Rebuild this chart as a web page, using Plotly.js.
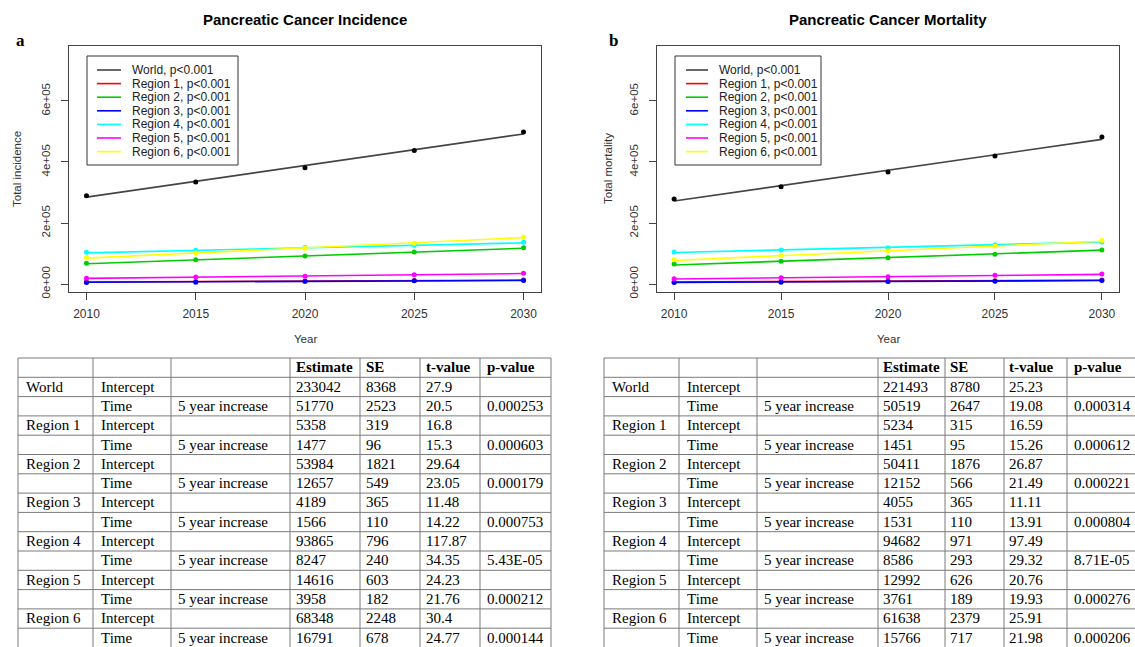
<!DOCTYPE html>
<html>
<head>
<meta charset="utf-8">
<script src="https://cdn.plot.ly/plotly-3.0.1.min.js"></script>
<style>html,body{margin:0;padding:0;background:#fff;}#chart{width:1135px;height:647px;}</style>
</head>
<body>
<div id="chart"></div>
<script>
// ---------------- DATA ----------------
var years = [2010, 2015, 2020, 2025, 2030];
var seriesNames = ['World', 'Region 1', 'Region 2', 'Region 3', 'Region 4', 'Region 5', 'Region 6'];
var pLabel = 'p<0.001';
var yTickVals = [0, 200000, 400000, 600000];
var yTickText = ['0e+00', '2e+05', '4e+05', '6e+05'];

// Incidence: observed points
var incWorld = [289500, 334000, 381000, 438000, 498000];
var incR1 = [7000, 8500, 9500, 11500, 13500];
var incR2 = [68000, 80000, 92000, 105000, 119000];
var incR3 = [5000, 6000, 9000, 10500, 11500];
var incR4 = [104000, 111000, 120000, 127000, 137000];
var incR5 = [19000, 23500, 26000, 30500, 35500];
var incR6 = [87000, 102000, 117000, 134000, 154000];
// Incidence: fitted lines
var incWorldFit = [284812, 336582, 388352, 440122, 491892];
var incR1Fit = [6835, 8312, 9789, 11266, 12743];
var incR2Fit = [66641, 79298, 91955, 104612, 117269];
var incR3Fit = [5755, 7321, 8887, 10453, 12019];
var incR4Fit = [102112, 110359, 118606, 126853, 135100];
var incR5Fit = [18574, 22532, 26490, 30448, 34406];
var incR6Fit = [85139, 101930, 118721, 135512, 152303];

// Mortality: observed points
var morWorld = [279000, 319000, 367000, 420000, 482000];
var morR1 = [7000, 8500, 9500, 11000, 13000];
var morR2 = [66000, 75000, 86000, 98000, 112000];
var morR3 = [5000, 6000, 8500, 9000, 11500];
var morR4 = [105000, 112000, 119000, 129000, 138000];
var morR5 = [17500, 21000, 24000, 28500, 33000];
var morR6 = [80000, 94000, 109000, 125000, 143000];
// Mortality: fitted lines
var morWorldFit = [272012, 322531, 373050, 423569, 474088];
var morR1Fit = [6685, 8136, 9587, 11038, 12489];
var morR2Fit = [62563, 74715, 86867, 99019, 111171];
var morR3Fit = [5586, 7117, 8648, 10179, 11710];
var morR4Fit = [103268, 111854, 120440, 129026, 137612];
var morR5Fit = [16753, 20514, 24275, 28036, 31797];
var morR6Fit = [77404, 93170, 108936, 124702, 140468];

// Tables
var tableHeader = ['', '', '', 'Estimate', 'SE', 't-value', 'p-value'];
var rowGroup = ['World', '', 'Region 1', '', 'Region 2', '', 'Region 3', '', 'Region 4', '', 'Region 5', '', 'Region 6', ''];
var rowTerm = ['Intercept', 'Time', 'Intercept', 'Time', 'Intercept', 'Time', 'Intercept', 'Time', 'Intercept', 'Time', 'Intercept', 'Time', 'Intercept', 'Time'];
var rowDesc = ['', '5 year increase', '', '5 year increase', '', '5 year increase', '', '5 year increase', '', '5 year increase', '', '5 year increase', '', '5 year increase'];
var incEstimate = ['233042', '51770', '5358', '1477', '53984', '12657', '4189', '1566', '93865', '8247', '14616', '3958', '68348', '16791'];
var incSE = ['8368', '2523', '319', '96', '1821', '549', '365', '110', '796', '240', '603', '182', '2248', '678'];
var incT = ['27.9', '20.5', '16.8', '15.3', '29.64', '23.05', '11.48', '14.22', '117.87', '34.35', '24.23', '21.76', '30.4', '24.77'];
var incP = ['', '0.000253', '', '0.000603', '', '0.000179', '', '0.000753', '', '5.43E-05', '', '0.000212', '', '0.000144'];
var morEstimate = ['221493', '50519', '5234', '1451', '50411', '12152', '4055', '1531', '94682', '8586', '12992', '3761', '61638', '15766'];
var morSE = ['8780', '2647', '315', '95', '1876', '566', '365', '110', '971', '293', '626', '189', '2379', '717'];
var morT = ['25.23', '19.08', '16.59', '15.26', '26.87', '21.49', '11.11', '13.91', '97.49', '29.32', '20.76', '19.93', '25.91', '21.98'];
var morP = ['', '0.000314', '', '0.000612', '', '0.000221', '', '0.000804', '', '8.71E-05', '', '0.000276', '', '0.000206'];

// ---------------- STYLE / LAYOUT ----------------
var W = 1135, H = 647;
function px(x) { return x / W; }
function py(y) { return 1 - y / H; }
var lineColors = ['#444444', '#ff0000', '#00cd00', '#0000ff', '#00ffff', '#ff00ff', '#ffff00'];
var markerColors = ['#000000', '#ff0000', '#00cd00', '#0000ff', '#00ffff', '#ff00ff', '#ffff00'];
var sans = 'Liberation Sans, Arial, sans-serif';
var serif = 'Liberation Serif, Times New Roman, serif';

var incObs = [incWorld, incR1, incR2, incR3, incR4, incR5, incR6];
var incFit = [incWorldFit, incR1Fit, incR2Fit, incR3Fit, incR4Fit, incR5Fit, incR6Fit];
var morObs = [morWorld, morR1, morR2, morR3, morR4, morR5, morR6];
var morFit = [morWorldFit, morR1Fit, morR2Fit, morR3Fit, morR4Fit, morR5Fit, morR6Fit];

var traces = [];
var annotations = [];
var shapes = [];

function addSeries(obs, fit, xa, ya) {
  for (var i = 0; i < seriesNames.length; i++) {
    traces.push({
      type: 'scatter', mode: 'lines', x: years, y: fit[i], xaxis: xa, yaxis: ya,
      line: { color: lineColors[i], width: 1.6 }, name: seriesNames[i], showlegend: false, hoverinfo: 'skip'
    });
    traces.push({
      type: 'scatter', mode: 'markers', x: years, y: obs[i], xaxis: xa, yaxis: ya,
      marker: { color: markerColors[i], size: 5 }, name: seriesNames[i], showlegend: false
    });
  }
}
addSeries(incObs, incFit, 'x', 'y');
addSeries(morObs, morFit, 'x2', 'y2');

// ---- tables drawn as text traces on hidden pixel-unit axes + grid shapes ----
var rowH = 19.3;
var nRows = rowGroup.length + 1; // header + body
function makeTable(cols, widths, pads, xa, ya) {
  var xref = xa.replace('axis', ''), yref = ya.replace('axis', '');
  var left = [0];
  for (var c = 0; c < widths.length; c++) left.push(left[c] + widths[c]);
  for (var c = 0; c < cols.length; c++) {
    var texts = [tableHeader[c] ? '<b>' + tableHeader[c] + '</b>' : ''].concat(cols[c]);
    var xs = [], ys = [];
    for (var r = 0; r < texts.length; r++) { xs.push(left[c] + pads[c]); ys.push((r + 0.55) * rowH); }
    traces.push({
      type: 'scatter', mode: 'text', x: xs, y: ys, text: texts, xaxis: xref, yaxis: yref,
      textposition: 'middle right', textfont: { family: serif, size: 15, color: '#000' },
      showlegend: false, hoverinfo: 'skip'
    });
  }
  for (var r = 0; r <= nRows; r++) {
    shapes.push({ type: 'line', xref: xref, yref: yref, x0: 0, x1: left[left.length - 1], y0: r * rowH, y1: r * rowH,
      line: { color: '#7a7a7a', width: 1 } });
  }
  for (var c = 0; c < left.length; c++) {
    shapes.push({ type: 'line', xref: xref, yref: yref, x0: left[c], x1: left[c], y0: 0, y1: nRows * rowH,
      line: { color: '#7a7a7a', width: 1 } });
  }
}
makeTable([rowGroup, rowTerm, rowDesc, incEstimate, incSE, incT, incP],
  [75, 78, 119, 70, 60, 60, 71], [8, 8, 7, 6, 6, 6, 7], 'xaxis3', 'yaxis3');
makeTable([rowGroup, rowTerm, rowDesc, morEstimate, morSE, morT, morP],
  [75, 78, 121, 67, 59, 63, 73], [8, 8, 7, 5, 5, 5, 7], 'xaxis4', 'yaxis4');

function hiddenAxis(d0, d1, r) {
  return { domain: [d0, d1], range: r, visible: false, showgrid: false, zeroline: false, fixedrange: true };
}

function xAxis(d0, d1, anchor) {
  return {
    domain: [px(d0), px(d1)], anchor: anchor, range: [2009.2, 2030.8],
    tickvals: years, ticks: 'outside', ticklen: 7, tickcolor: '#444', tickwidth: 1,
    showline: true, mirror: true, linecolor: '#444', linewidth: 1,
    showgrid: false, zeroline: false, ticklabelstandoff: 4,
    tickfont: { family: sans, size: 12, color: '#333' }
  };
}
function yAxis(anchor) {
  return {
    domain: [py(292), py(46)], anchor: anchor, range: [-26000, 780000],
    tickvals: yTickVals, ticktext: yTickText, tickangle: -90,
    ticks: 'outside', ticklen: 7, tickcolor: '#444', tickwidth: 1,
    showline: true, mirror: true, linecolor: '#444', linewidth: 1,
    showgrid: false, zeroline: false, ticklabelstandoff: 6,
    tickfont: { family: sans, size: 11.5, color: '#333' }
  };
}

function ann(text, x, y, opts) {
  var a = { text: text, x: px(x), y: py(y), xref: 'paper', yref: 'paper', showarrow: false,
    xanchor: 'center', yanchor: 'middle', font: { family: sans, size: 12, color: '#222' } };
  for (var k in opts) a[k] = opts[k];
  annotations.push(a);
}
function panelText(title, cx, letter, lx, ytitle, yx) {
  ann('<b>' + title + '</b>', cx, 19, { font: { family: sans, size: 15, color: '#000' } });
  ann('<b>' + letter + '</b>', lx, 41, { font: { family: serif, size: 17, color: '#000' } });
  ann(ytitle, yx, 169, { textangle: -90, font: { family: sans, size: 11.5, color: '#333' } });
  ann('Year', cx, 339, { font: { family: sans, size: 11.5, color: '#333' } });
}
panelText('Pancreatic Cancer Incidence', 305, 'a', 20, 'Total incidence', 17);
panelText('Pancreatic Cancer Mortality', 888, 'b', 613, 'Total mortality', 608);

function legendBox(bx0, bx1, lx0, lx1, tx) {
  shapes.push({ type: 'rect', xref: 'paper', yref: 'paper', x0: px(bx0), x1: px(bx1), y0: py(165), y1: py(56),
    line: { color: '#333', width: 1 }, fillcolor: 'rgba(0,0,0,0)' });
  for (var i = 0; i < seriesNames.length; i++) {
    var yy = 70 + 13.6 * i;
    shapes.push({ type: 'line', xref: 'paper', yref: 'paper', x0: px(lx0), x1: px(lx1), y0: py(yy), y1: py(yy),
      line: { color: lineColors[i], width: 1.6 } });
    ann(seriesNames[i] + ', ' + pLabel, tx, yy, { xanchor: 'left', font: { family: sans, size: 12, color: '#222' } });
  }
}
legendBox(87, 238, 97, 121, 130);
legendBox(675, 821, 686, 708, 717);

var layout = {
  width: W, height: H, margin: { l: 0, r: 0, t: 0, b: 0 },
  paper_bgcolor: '#ffffff', plot_bgcolor: '#ffffff', showlegend: false,
  xaxis: xAxis(69, 541, 'y'), yaxis: yAxis('x'),
  xaxis2: xAxis(657, 1119, 'y2'), yaxis2: yAxis('x2'),
  xaxis3: hiddenAxis(px(16), px(553), [-2, 535]),
  yaxis3: hiddenAxis(0, py(356), [289, -2]),
  xaxis4: hiddenAxis(px(602), 1, [-2, 531]),
  yaxis4: hiddenAxis(0, py(356), [289, -2]),
  annotations: annotations, shapes: shapes
};
layout.xaxis3.anchor = 'y3'; layout.yaxis3.anchor = 'x3';
layout.xaxis4.anchor = 'y4'; layout.yaxis4.anchor = 'x4';
Plotly.newPlot('chart', traces, layout, { displayModeBar: false, staticPlot: true });
</script>
</body>
</html>
